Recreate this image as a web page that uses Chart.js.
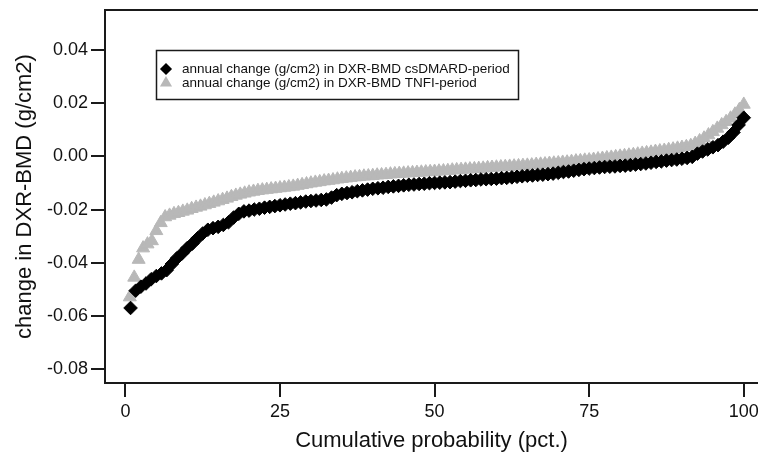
<!DOCTYPE html>
<html>
<head>
<meta charset="utf-8">
<script src="https://cdn.jsdelivr.net/npm/chart.js@4.4.1/dist/chart.umd.min.js"></script>
<style>
  html, body { margin: 0; padding: 0; background: #fff; }
  #wrap { width: 758px; height: 458px; position: relative; overflow: hidden; }
</style>
</head>
<body>
<div id="wrap"><canvas id="c"></canvas></div>
<script>
// ---- data ----
const seriesLabels = [
  'annual change (g/cm2) in DXR-BMD csDMARD-period',
  'annual change (g/cm2) in DXR-BMD TNFI-period'
];
// sorted annual change values, csDMARD-period (plotted at their cumulative probability)
const csdmardChange = [
  -0.0570,-0.0505,-0.0490,-0.0478,-0.0462,-0.0450,-0.0440,-0.0428,-0.0405,-0.0383,
  -0.0365,-0.0345,-0.0328,-0.0308,-0.0290,-0.0276,-0.0270,-0.0265,-0.0258,-0.0248,
  -0.0230,-0.0216,-0.0207,-0.0204,-0.0200,-0.0197,-0.0193,-0.0190,-0.0187,-0.0184,
  -0.0181,-0.0178,-0.0176,-0.0173,-0.0170,-0.0168,-0.0166,-0.0164,-0.0162,-0.0155,
  -0.0146,-0.0141,-0.0138,-0.0135,-0.0131,-0.0128,-0.0125,-0.0122,-0.0120,-0.0118,
  -0.0115,-0.0113,-0.0111,-0.0109,-0.0107,-0.0106,-0.0104,-0.0103,-0.0101,-0.0100,
  -0.0099,-0.0098,-0.0097,-0.0095,-0.0093,-0.0092,-0.0090,-0.0089,-0.0087,-0.0086,
  -0.0085,-0.0084,-0.0082,-0.0081,-0.0079,-0.0077,-0.0075,-0.0073,-0.0072,-0.0070,
  -0.0069,-0.0067,-0.0065,-0.0062,-0.0059,-0.0057,-0.0054,-0.0051,-0.0048,-0.0046,
  -0.0044,-0.0042,-0.0040,-0.0039,-0.0038,-0.0036,-0.0035,-0.0033,-0.0031,-0.0029,
  -0.0027,-0.0024,-0.0021,-0.0019,-0.0016,-0.0014,-0.0012,-0.0009,-0.0006,-0.0002,
   0.0010, 0.0018, 0.0026, 0.0034, 0.0042, 0.0055, 0.0070, 0.0090, 0.0118, 0.0145
];
// sorted annual change values, TNFI-period
const tnfiChange = [
  -0.0529,-0.0455,-0.0388,-0.0345,-0.0330,-0.0318,-0.0280,-0.0250,-0.0228,-0.0222,
  -0.0216,-0.0212,-0.0207,-0.0203,-0.0197,-0.0192,-0.0188,-0.0183,-0.0178,-0.0173,
  -0.0168,-0.0163,-0.0158,-0.0152,-0.0147,-0.0143,-0.0139,-0.0135,-0.0132,-0.0129,
  -0.0127,-0.0125,-0.0123,-0.0121,-0.0119,-0.0117,-0.0115,-0.0113,-0.0110,-0.0107,
  -0.0104,-0.0101,-0.0098,-0.0096,-0.0093,-0.0091,-0.0089,-0.0086,-0.0084,-0.0082,
  -0.0080,-0.0078,-0.0077,-0.0075,-0.0074,-0.0073,-0.0071,-0.0070,-0.0069,-0.0067,
  -0.0066,-0.0065,-0.0064,-0.0063,-0.0062,-0.0061,-0.0060,-0.0059,-0.0058,-0.0057,
  -0.0056,-0.0055,-0.0054,-0.0052,-0.0051,-0.0050,-0.0049,-0.0048,-0.0047,-0.0046,
  -0.0045,-0.0043,-0.0042,-0.0041,-0.0040,-0.0039,-0.0038,-0.0037,-0.0036,-0.0035,
  -0.0034,-0.0033,-0.0031,-0.0030,-0.0029,-0.0027,-0.0026,-0.0025,-0.0023,-0.0022,
  -0.0020,-0.0018,-0.0017,-0.0015,-0.0014,-0.0012,-0.0010,-0.0008,-0.0006,-0.0004,
  -0.0002, 0.0000, 0.0002, 0.0004, 0.0006, 0.0008, 0.0011, 0.0013, 0.0015, 0.0018,
   0.0020, 0.0022, 0.0025, 0.0027, 0.0030, 0.0033, 0.0036, 0.0040, 0.0048, 0.0058,
   0.0068, 0.0080, 0.0092, 0.0105, 0.0118, 0.0130, 0.0143, 0.0158, 0.0175, 0.0195
];
const xTickValues = [0, 25, 50, 75, 100];
const yTickValues = [0.04, 0.02, 0.00, -0.02, -0.04, -0.06, -0.08];
const xTitle = 'Cumulative probability (pct.)';
const yTitle = 'change in DXR-BMD (g/cm2)';

// cumulative probability (pct.) of each sorted value = rank / n * 100
function toCumulative(values) {
  const n = values.length;
  return values.map((v, i) => ({ x: (i + 1) / n * 100, y: v }));
}

const FONT = "'Liberation Sans', Arial, Helvetica, sans-serif";
Chart.defaults.font.family = FONT;
Chart.defaults.color = '#111';

const AXIS = '#1a1a1a';

const topBorder = {
  id: 'topBorder',
  afterDraw(chart) {
    const { ctx, chartArea } = chart;
    ctx.save();
    ctx.strokeStyle = AXIS;
    ctx.lineWidth = 2;
    ctx.beginPath();
    ctx.moveTo(chartArea.left - 1, chartArea.top);
    ctx.lineTo(chart.width, chartArea.top);
    ctx.stroke();
    ctx.restore();
  }
};

const boxLegend = {
  id: 'boxLegend',
  afterDraw(chart) {
    const { ctx } = chart;
    ctx.save();
    ctx.fillStyle = '#fff';
    ctx.fillRect(156, 50, 362, 49);
    ctx.strokeStyle = AXIS;
    ctx.lineWidth = 1.5;
    ctx.strokeRect(156.5, 50.5, 362, 49);
    ctx.font = "13.5px " + FONT;
    ctx.textBaseline = 'middle';
    ctx.textAlign = 'left';
    chart.data.datasets.forEach((ds, i) => {
      const y = 69 + i * 14;
      ctx.fillStyle = ds.backgroundColor;
      ctx.strokeStyle = ds.borderColor;
      Chart.helpers.drawPoint(ctx, {
        pointStyle: ds.pointStyle,
        radius: ds.pointStyle === 'triangle' ? 5.5 : 5,
        rotation: 0,
        borderWidth: 0.5
      }, 166, y);
      ctx.fillStyle = '#111';
      ctx.fillText(ds.label, 182, y + 0.5);
    });
    ctx.restore();
  }
};

new Chart(document.getElementById('c'), {
  type: 'scatter',
  data: {
    datasets: [
      {
        label: seriesLabels[0],
        data: toCumulative(csdmardChange),
        pointStyle: 'rectRot',
        pointRadius: 6.8,
        pointBorderWidth: 1,
        backgroundColor: '#000',
        borderColor: '#000',
        showLine: false
      },
      {
        label: seriesLabels[1],
        data: toCumulative(tnfiChange),
        pointStyle: 'triangle',
        pointRadius: 7.5,
        pointBorderWidth: 1,
        backgroundColor: '#b8b8b8',
        borderColor: '#b8b8b8',
        showLine: false
      }
    ]
  },
  options: {
    responsive: true,
    maintainAspectRatio: false,
    animation: false,
    layout: { autoPadding: false, padding: { top: 10, right: 0, left: 0, bottom: 0 } },
    plugins: {
      legend: { display: false },
      tooltip: { enabled: false }
    },
    scales: {
      x: {
        type: 'linear',
        min: -3.3,
        max: 102.3,
        afterBuildTicks: s => { s.ticks = xTickValues.map(v => ({ value: v })); },
        afterFit: s => { s.height = 75; s.paddingLeft = 0; s.paddingRight = 0; },
        grid: { drawOnChartArea: false, drawTicks: true, tickLength: 14, lineWidth: 2, color: AXIS },
        border: { display: true, color: AXIS, width: 2 },
        ticks: { font: { size: 18 }, color: '#111', padding: 4, maxRotation: 0, autoSkip: false },
        title: { display: true, text: xTitle, font: { size: 22 }, color: '#111', padding: { top: 4, bottom: 4 } }
      },
      y: {
        type: 'linear',
        min: -0.0852,
        max: 0.055,
        afterBuildTicks: s => { s.ticks = yTickValues.map(v => ({ value: v })); },
        afterFit: s => { s.width = 105; s.paddingTop = 0; s.paddingBottom = 0; },
        grid: { drawOnChartArea: false, drawTicks: true, tickLength: 14, lineWidth: 2, color: AXIS },
        border: { display: true, color: AXIS, width: 2 },
        ticks: {
          font: { size: 18 }, color: '#111', padding: 3, autoSkip: false,
          callback: v => Number(v).toFixed(2)
        },
        title: { display: true, text: yTitle, font: { size: 22 }, color: '#111', padding: { top: 12, bottom: 0 } }
      }
    }
  },
  plugins: [topBorder, boxLegend]
});
</script>
</body>
</html>
